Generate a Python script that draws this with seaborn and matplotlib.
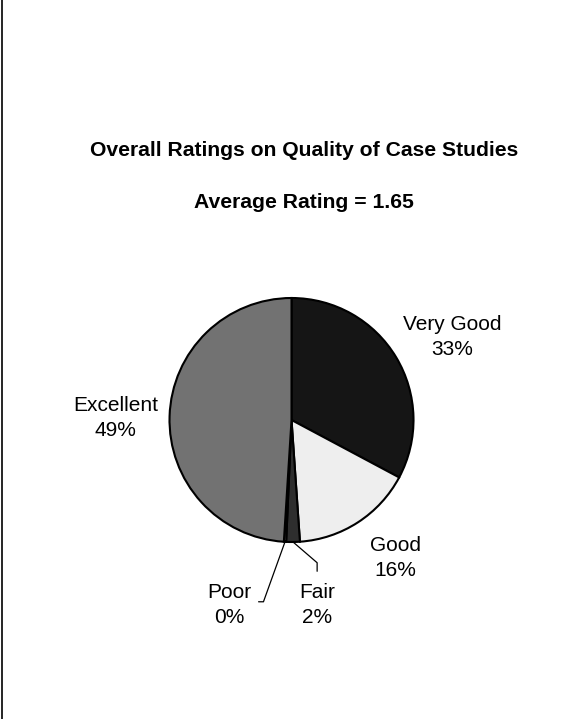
import numpy as np
import matplotlib
matplotlib.use("Agg")
from matplotlib import pyplot as plt
from matplotlib.lines import Line2D
import seaborn as sns

# data (clockwise from 12 o'clock)
ratings = ["Very Good", "Good", "Fair", "Poor", "Excellent"]
shares = [32.8, 16.1, 1.8, 0.3, 49.0]
pct_labels = ["33%", "16%", "2%", "0%", "49%"]
title = "Overall Ratings on Quality of Case Studies"
subtitle = "Average Rating = 1.65"

colors = ["#151515", "#eeeeee", "#2e2e2e", "#9a9a9a", "#727272"]

sns.set_theme(style="white")
plt.rcParams["font.family"] = ["Liberation Sans", "DejaVu Sans"]
plt.rcParams["text.color"] = "black"

fig = plt.figure(figsize=(5.78, 7.19), dpi=100)
fig.patch.set_facecolor("white")

# pie axes: square in pixels, centred on the pie
ax = fig.add_axes([0.0822, 0.0765, 0.8443, 0.6787])
wedges, _ = ax.pie(shares, colors=colors, startangle=90, counterclock=False,
                   radius=1.0,
                   wedgeprops=dict(edgecolor="black", linewidth=1.5))
ax.set_xlim(-2, 2)
ax.set_ylim(-2, 2)
ax.set_aspect("equal")
ax.axis("off")

# label positions (data units, pie radius = 1)
label_pos = {
    "Very Good": (1.32, 0.68),
    "Good": (0.85, -1.13),
    "Fair": (0.21, -1.52),
    "Poor": (-0.51, -1.52),
    "Excellent": (-1.44, 0.02),
}
for name, pct in zip(ratings, pct_labels):
    x, y = label_pos[name]
    ax.text(x, y, f"{name}\n{pct}", ha="center", va="center",
            fontsize=15, color="black", linespacing=1.4)

# leader lines for the thin slices
elbows = {
    "Fair": [(0.21, -1.17), (0.21, -1.24)],
    "Poor": [(-0.23, -1.49), (-0.27, -1.49)],
}
for w, name in zip(wedges, ratings):
    if name not in elbows:
        continue
    mid = np.deg2rad((w.theta1 + w.theta2) / 2)
    pts = [(np.cos(mid), np.sin(mid))] + elbows[name]
    xs, ys = zip(*pts)
    ax.plot(xs, ys, color="black", linewidth=0.9)

fig.text(0.526, 0.791, title, ha="center", va="center",
         fontsize=15.2, fontweight="bold", color="black")
fig.text(0.526, 0.718, subtitle, ha="center", va="center",
         fontsize=15.2, fontweight="bold", color="black")

# left frame line
fig.add_artist(Line2D([0.003, 0.003], [0, 1], color="black", linewidth=1.2,
                      transform=fig.transFigure))

fig.savefig("out.png", dpi=100, facecolor="white")
